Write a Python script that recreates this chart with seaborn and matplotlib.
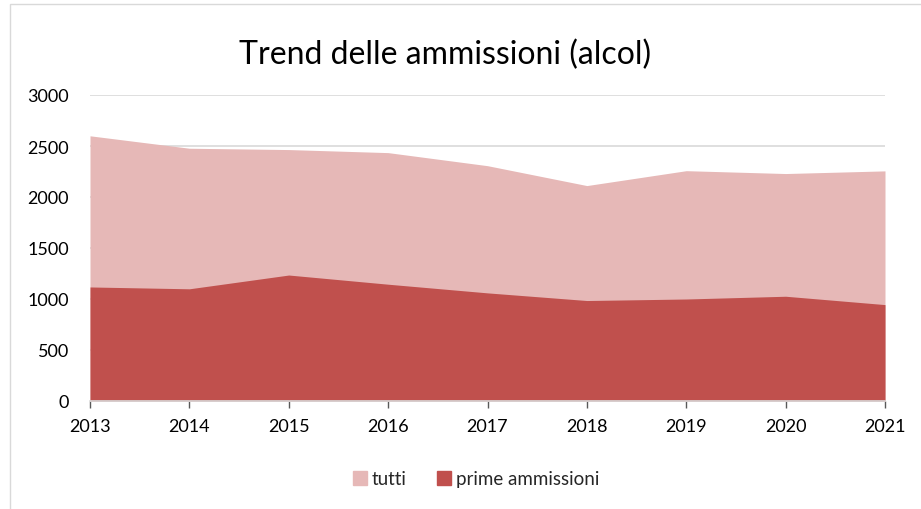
import matplotlib
matplotlib.use('Agg')
import matplotlib.pyplot as plt
import seaborn as sns
import pandas as pd
from matplotlib.patches import Patch, Rectangle

# data
years = [2013, 2014, 2015, 2016, 2017, 2018, 2019, 2020, 2021]
tutti = [2600, 2478, 2465, 2435, 2307, 2112, 2258, 2230, 2256]
prime = [1118, 1100, 1235, 1145, 1060, 985, 1000, 1027, 945]
y_ticks = [0, 500, 1000, 1500, 2000, 2500, 3000]

c_tutti = '#E6B8B7'
c_prime = '#C0504D'

df = pd.DataFrame({'anno': years, 'tutti': tutti, 'prime ammissioni': prime})

sns.set_theme(style='white')
plt.rcParams['font.family'] = ['Lato', 'DejaVu Sans']

fig = plt.figure(figsize=(9.21, 5.10), dpi=100)
ax = fig.add_axes([90 / 921, 1 - 402 / 510, 795 / 921, 306 / 510])

# gridlines behind the areas
ax.set_axisbelow(True)
ax.yaxis.grid(True, color='#D9D9D9', linewidth=1.2)

sns.lineplot(data=df, x='anno', y='tutti', ax=ax, color=c_tutti, linewidth=0)
sns.lineplot(data=df, x='anno', y='prime ammissioni', ax=ax, color=c_prime, linewidth=0)
ax.fill_between(df['anno'], 0, df['tutti'], color=c_tutti, linewidth=0, zorder=2)
ax.fill_between(df['anno'], 0, df['prime ammissioni'], color=c_prime, linewidth=0, zorder=3)

ax.set_xlim(years[0], years[-1])
ax.set_ylim(0, 3000)
ax.set_xticks(years)
ax.set_yticks(y_ticks)
ax.set_xlabel('')
ax.set_ylabel('')
ax.tick_params(axis='x', labelsize=13, colors='#595959', labelcolor='black',
               bottom=True, length=5, width=1, direction='out', pad=7)
ax.tick_params(axis='y', labelsize=13, labelcolor='black', left=False, pad=9)

for s in ['top', 'right', 'left']:
    ax.spines[s].set_visible(False)
ax.spines['bottom'].set_color('#D9D9D9')
ax.spines['bottom'].set_linewidth(1.2)
ax.spines['bottom'].set_zorder(4)

fig.text(445 / 921, 1 - 55 / 510, 'Trend delle ammissioni (alcol)',
         ha='center', va='center', fontsize=23, color='black')

handles = [Patch(color=c_tutti, label='tutti'),
           Patch(color=c_prime, label='prime ammissioni')]
fig.legend(handles=handles, loc='center', bbox_to_anchor=(476 / 921, 1 - 480 / 510),
           ncol=2, frameon=False, fontsize=13.5, handlelength=0.75, handleheight=0.75,
           handletextpad=0.25, columnspacing=1.6)

# light chart frame
fig.patches.append(Rectangle((10 / 921, -0.01), 1.2, 1 - 5 / 510 + 0.01,
                             transform=fig.transFigure, fill=False,
                             edgecolor='#D9D9D9', linewidth=1))

fig.savefig('out.png', dpi=100)
